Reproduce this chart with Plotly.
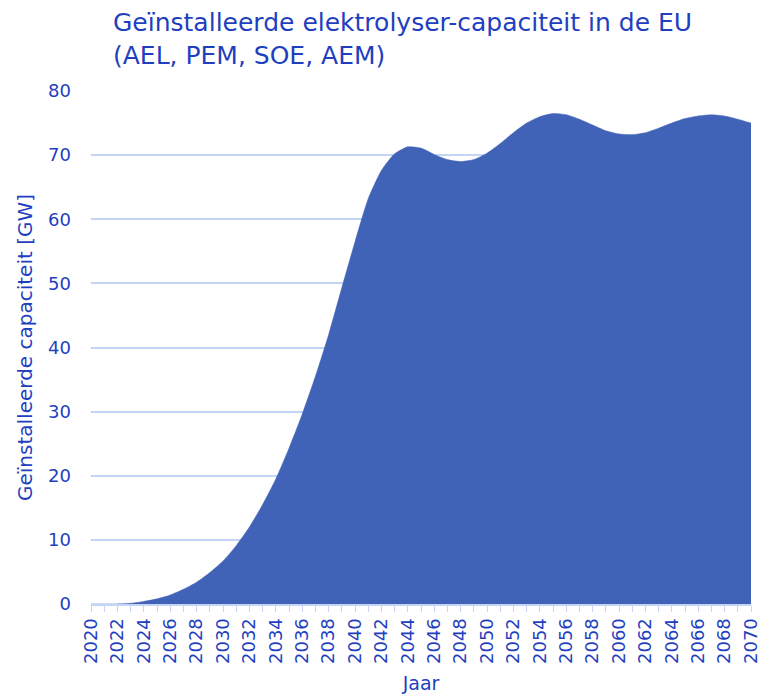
"""Geïnstalleerde elektrolyser-capaciteit in de EU — area chart."""

import plotly.graph_objects as go

# ── data ──────────────────────────────────────────────────────────────────────
years = list(range(2020, 2071))
capacity_gw = [
    0.0, 0.0, 0.0, 0.1, 0.4, 0.8, 1.4, 2.3, 3.4, 4.9,          # 2020-2029
    6.7, 9.1, 12.0, 15.5, 19.5, 24.3, 29.6, 35.5, 42.0, 49.3,  # 2030-2039
    56.5, 63.2, 67.6, 70.2, 71.3, 71.1, 70.1, 69.3, 69.0, 69.3,  # 2040-2049
    70.3, 71.8, 73.5, 75.0, 76.0, 76.5, 76.3, 75.6, 74.7, 73.8,  # 2050-2059
    73.3, 73.2, 73.5, 74.2, 75.0, 75.7, 76.1, 76.3, 76.1, 75.6,  # 2060-2069
    75.0,                                                        # 2070
]
y_ticks = [0, 10, 20, 30, 40, 50, 60, 70, 80]
x_ticks = list(range(2020, 2071, 2))

# ── palette ───────────────────────────────────────────────────────────────────
_FILL = "#4063b8"
_TEXT = "#1f3fbf"
_GRID = "#c3d4f7"
_FONT = "'DejaVu Sans', Verdana, sans-serif"

fig = go.Figure(go.Scatter(
    x=years, y=capacity_gw,
    mode="lines",
    line=dict(color=_FILL, width=0.5, shape="spline", smoothing=0.6),
    fill="tozeroy", fillcolor=_FILL,
    showlegend=False,
    hoverinfo="x+y",
))

fig.update_layout(
    width=761, height=695,
    paper_bgcolor="white", plot_bgcolor="white",
    font=dict(family=_FONT, color=_TEXT, size=18),
    title=dict(
        text="Geïnstalleerde elektrolyser-capaciteit in de EU<br>(AEL, PEM, SOE, AEM)",
        x=0, xref="paper", xanchor="left",
        y=0.955, yref="container", yanchor="top",
        pad=dict(l=22),
        font=dict(family=_FONT, color=_TEXT, size=25),
    ),
    margin=dict(l=91, r=10, t=91, b=91),
    xaxis=dict(
        range=[2020, 2070],
        automargin=False,
        tickmode="array", tickvals=x_ticks, ticktext=[str(v) for v in x_ticks],
        tickangle=-90,
        ticks="outside", ticklen=6, tickcolor=_GRID, tickwidth=1,
        minor=dict(dtick=1, tick0=2020, ticks="outside", ticklen=6,
                   tickcolor=_GRID, tickwidth=1),
        ticklabelstandoff=-1,
        showgrid=False, zeroline=False,
        showline=True, linecolor=_GRID, linewidth=2,
        tickfont=dict(size=18, color=_TEXT),
        title=dict(text="Jaar", font=dict(size=19, color=_TEXT), standoff=14),
    ),
    yaxis=dict(
        range=[0, 80],
        automargin=False,
        tickmode="array", tickvals=y_ticks,
        showgrid=True, gridcolor=_GRID, gridwidth=2,
        zeroline=False, showline=False,
        ticks="", ticklabelstandoff=19,
        tickfont=dict(size=18, color=_TEXT),
        title=dict(text="Geïnstalleerde capaciteit [GW]",
                   font=dict(size=20, color=_TEXT), standoff=10),
    ),
)

# page has a default 8px body margin; drop it so the figure sits at 0,0
fig.write_html(
    "out.html",
    config={"displayModeBar": False},
    post_script="document.body.style.margin = '0';",
)
